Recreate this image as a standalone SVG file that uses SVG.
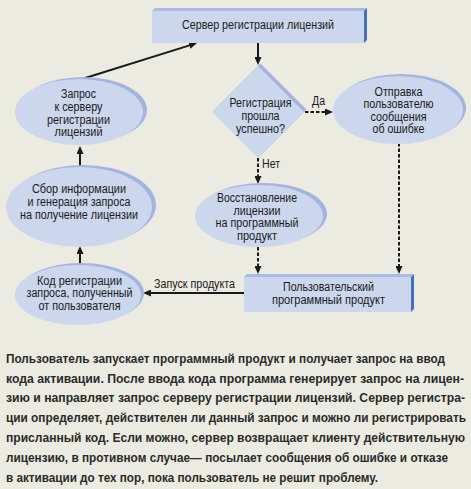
<svg xmlns="http://www.w3.org/2000/svg" width="471" height="489" viewBox="0 0 471 489">
<defs>
<style>
.t{font-family:"Liberation Sans",Arial,sans-serif;font-size:12px;fill:#1a1a1a;text-anchor:middle}
.l{font-family:"Liberation Sans",Arial,sans-serif;font-size:12px;fill:#1a1a1a}
.p{font-family:"Liberation Sans",Arial,sans-serif;font-size:13px;font-weight:bold;fill:#2a2a2a}
.face{fill:#CCD6EC}
.shadow{fill:#A2B4DF}
.edge{fill:#4470C0}
.top{fill:#A9BBE4}
.ln{fill:none;stroke:#1a1a1a;stroke-width:2}
.dash{stroke-dasharray:3.5 2}
</style>
<marker id="ah" viewBox="0 0 8 7" refX="6" refY="3.5" markerWidth="8" markerHeight="7" markerUnits="userSpaceOnUse" orient="auto"><path d="M0,0 L8,3.5 L0,7 z" fill="#1a1a1a"/></marker>
</defs>
<rect x="0" y="0" width="471" height="489" fill="#ECEBE1"/>

<g id="connectors">
<line class="ln" x1="82" y1="79" x2="195.1" y2="43.6" marker-end="url(#ah)"/>
<line class="ln" x1="258" y1="43" x2="258" y2="63" marker-end="url(#ah)"/>
<line class="ln dash" x1="305" y1="112" x2="331" y2="112" marker-end="url(#ah)"/>
<line class="ln dash" x1="258" y1="158" x2="258" y2="182" marker-end="url(#ah)"/>
<line class="ln dash" x1="258" y1="247" x2="258" y2="272" marker-end="url(#ah)"/>
<line class="ln dash" x1="399" y1="143" x2="399" y2="272" marker-end="url(#ah)"/>
<line class="ln" x1="244" y1="293" x2="145" y2="293" marker-end="url(#ah)"/>
<line class="ln" x1="80" y1="264" x2="80" y2="248" marker-end="url(#ah)"/>
<line class="ln" x1="80" y1="166" x2="80" y2="148" marker-end="url(#ah)"/>
<text class="l" x="312" y="105" textLength="13" lengthAdjust="spacingAndGlyphs">Да</text>
<text class="l" x="262" y="168" textLength="18" lengthAdjust="spacingAndGlyphs">Нет</text>
<text class="l" x="154" y="288" textLength="81" lengthAdjust="spacingAndGlyphs">Запуск продукта</text>
</g>

<g id="server">
<polygon class="top" points="152,11 155,8 367,8 364,11"/>
<polygon class="edge" points="364,11 367,8 367,40 364,43"/>
<rect class="face" x="152" y="11" width="212" height="32"/>
<text class="t" x="258" y="29" textLength="152" lengthAdjust="spacingAndGlyphs">Сервер регистрации лицензий</text>
</g>

<g id="decision">
<polygon class="shadow" points="260.5,63.5 306.5,109.5 260.5,155.5 214.5,109.5"/>
<polygon class="face" points="258,66 304,112 258,158 212,112"/>
<text class="t" x="260.5" y="106.7" textLength="62" lengthAdjust="spacingAndGlyphs">Регистрация</text>
<text class="t" x="260.5" y="120" textLength="38" lengthAdjust="spacingAndGlyphs">прошла</text>
<text class="t" x="260.5" y="133" textLength="49" lengthAdjust="spacingAndGlyphs">успешно?</text>
</g>

<g id="error">
<ellipse class="shadow" cx="401" cy="108" rx="65" ry="34"/>
<ellipse class="face" cx="398" cy="110" rx="65" ry="34"/>
<text class="t" x="398.5" y="95.5" textLength="48" lengthAdjust="spacingAndGlyphs">Отправка</text>
<text class="t" x="398.5" y="108" textLength="70" lengthAdjust="spacingAndGlyphs">пользователю</text>
<text class="t" x="398.5" y="120.5" textLength="56" lengthAdjust="spacingAndGlyphs">сообщения</text>
<text class="t" x="398.5" y="133" textLength="52" lengthAdjust="spacingAndGlyphs">об ошибке</text>
</g>

<g id="request">
<ellipse class="shadow" cx="83" cy="110" rx="64" ry="33"/>
<ellipse class="face" cx="79" cy="112" rx="64" ry="33"/>
<text class="t" x="78.5" y="98" textLength="35" lengthAdjust="spacingAndGlyphs">Запрос</text>
<text class="t" x="78.5" y="111" textLength="48" lengthAdjust="spacingAndGlyphs">к серверу</text>
<text class="t" x="78.5" y="123.5" textLength="63" lengthAdjust="spacingAndGlyphs">регистрации</text>
<text class="t" x="78.5" y="136" textLength="48" lengthAdjust="spacingAndGlyphs">лицензий</text>
</g>

<g id="collect">
<ellipse class="shadow" cx="83" cy="205" rx="73" ry="40"/>
<ellipse class="face" cx="79" cy="207" rx="73" ry="40"/>
<text class="t" x="79" y="193" textLength="94" lengthAdjust="spacingAndGlyphs">Сбор информации</text>
<text class="t" x="79" y="206" textLength="103" lengthAdjust="spacingAndGlyphs">и генерация запроса</text>
<text class="t" x="79" y="218.5" textLength="118" lengthAdjust="spacingAndGlyphs">на получение лицензии</text>
</g>

<g id="code">
<ellipse class="shadow" cx="81" cy="293" rx="63" ry="30"/>
<ellipse class="face" cx="78" cy="295" rx="63" ry="30"/>
<text class="t" x="79.5" y="284.5" textLength="85" lengthAdjust="spacingAndGlyphs">Код регистрации</text>
<text class="t" x="79.5" y="297" textLength="106" lengthAdjust="spacingAndGlyphs">запроса, полученный</text>
<text class="t" x="79.5" y="309.5" textLength="82" lengthAdjust="spacingAndGlyphs">от пользователя</text>
</g>

<g id="restore">
<ellipse class="shadow" cx="263" cy="214" rx="64" ry="31"/>
<ellipse class="face" cx="259" cy="216" rx="64" ry="31"/>
<text class="t" x="257" y="202" textLength="80" lengthAdjust="spacingAndGlyphs">Восстановление</text>
<text class="t" x="257" y="214.5" textLength="47" lengthAdjust="spacingAndGlyphs">лицензии</text>
<text class="t" x="257" y="227" textLength="83" lengthAdjust="spacingAndGlyphs">на программный</text>
<text class="t" x="257" y="239.5" textLength="40" lengthAdjust="spacingAndGlyphs">продукт</text>
</g>

<g id="product">
<polygon class="top" points="244,277 247,274 414,274 411,277"/>
<polygon class="edge" points="411,277 414,274 414,309 411,312"/>
<rect class="face" x="244" y="277" width="167" height="35"/>
<text class="t" x="328.5" y="291" textLength="91" lengthAdjust="spacingAndGlyphs">Пользовательский</text>
<text class="t" x="328.5" y="303.5" textLength="113" lengthAdjust="spacingAndGlyphs">программный продукт</text>
</g>

<g id="caption" transform="scale(0.87,1)">
<text class="p" x="6.9" y="363" textLength="504.6" lengthAdjust="spacingAndGlyphs">Пользователь запускает программный продукт и получает запрос на ввод</text>
<text class="p" x="6.9" y="383" textLength="526.4" lengthAdjust="spacingAndGlyphs">кода активации. После ввода кода программа генерирует запрос на лицен-</text>
<text class="p" x="6.9" y="402.5" textLength="527.6" lengthAdjust="spacingAndGlyphs">зию и направляет запрос серверу регистрации лицензий. Сервер регистра-</text>
<text class="p" x="6.9" y="422.3" textLength="528.7" lengthAdjust="spacingAndGlyphs">ции определяет, действителен ли данный запрос и можно ли регистрировать</text>
<text class="p" x="6.9" y="442" textLength="527.6" lengthAdjust="spacingAndGlyphs">присланный код. Если можно, сервер возвращает клиенту действительную</text>
<text class="p" x="6.9" y="462" textLength="508" lengthAdjust="spacingAndGlyphs">лицензию, в противном случае— посылает сообщения об ошибке и отказе</text>
<text class="p" x="6.9" y="482" textLength="427.6" lengthAdjust="spacingAndGlyphs">в активации до тех пор, пока пользователь не решит проблему.</text>
</g>
</svg>
